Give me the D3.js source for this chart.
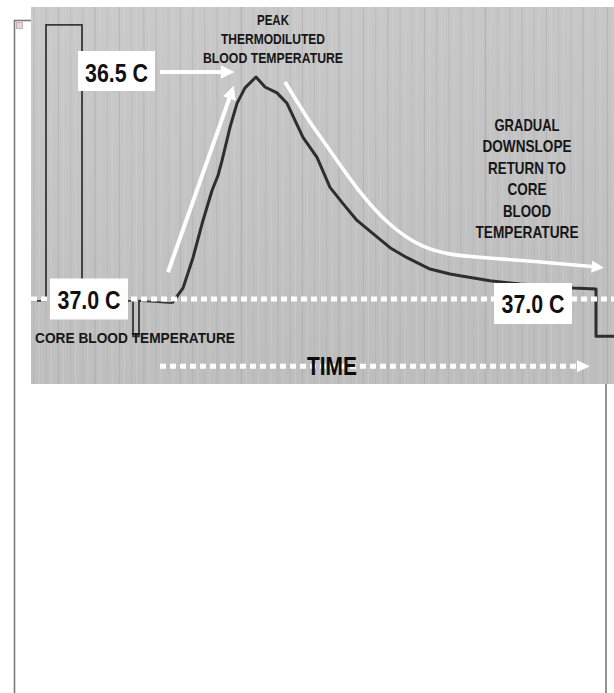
<!DOCTYPE html>
<html><head><meta charset="utf-8">
<script src="https://cdn.jsdelivr.net/npm/d3@7"></script>
<style>html,body{margin:0;padding:0;background:#fff;}svg{display:block;}</style>
</head><body>
<svg id="chart" width="614" height="693"></svg>
<script>
// ---------- data (time in s, temperature in °C) ----------
const calibrationTime = [0, 1.5, 1.5, 5.1, 5.1, 10.2, 10.2, 10.8, 10.8, 14.1];
const calibrationTemp = [37.004, 37.004, 36.396, 36.396, 37.004, 37.004, 37.082, 37.082, 37.004, 37.009];
const curveTime = [14.1, 15.2, 16.2, 17.2, 18.1, 18.7, 19.1, 19.9, 20.6, 21.4, 22.5, 23.4, 24.6, 25.6, 27.2, 28.6, 29.9, 31.2, 32.6, 34.2, 35.9, 37.6, 39.9, 41.9, 42.9, 45.9, 48.9, 51.9, 54.2, 56.5, 56.5, 58.3];
const curveTemp = [37.009, 36.976, 36.909, 36.827, 36.761, 36.728, 36.695, 36.622, 36.569, 36.535, 36.511, 36.533, 36.546, 36.569, 36.644, 36.688, 36.754, 36.790, 36.827, 36.856, 36.887, 36.909, 36.934, 36.945, 36.949, 36.960, 36.967, 36.971, 36.976, 36.978, 37.082, 37.082];
const coreTemp = 37.0;
const peakTemp = 36.5;
const tempLabels = ["36.5 C", "37.0 C", "37.0 C"];
const peakLabel = ["PEAK", "THERMODILUTED", "BLOOD TEMPERATURE"];
const downslopeLabel = ["GRADUAL", "DOWNSLOPE", "RETURN TO", "CORE", "BLOOD", "TEMPERATURE"];
const coreLabel = "CORE BLOOD TEMPERATURE";
const timeLabel = "TIME";
// annotation arrows (time, temp)
const upArrowTime = [13.7, 20.1];
const upArrowTemp = [36.941, 36.524];
const peakArrowTime = [12.9, 20.7];
const downslopeTime = [25.4, 27.9, 29.2, 32.6, 35.9, 39.2, 41.9, 45.9, 50.9, 56.8];
const downslopeTemp = [36.522, 36.612, 36.650, 36.760, 36.841, 36.888, 36.903, 36.910, 36.918, 36.930];
const timeArrowTime = [12.9, 55.9];
const timeArrowTemp = 37.148;

// ---------- scales ----------
const x = d3.scaleLinear().domain([0, 58.3]).range([31, 614]);
const y = d3.scaleLinear().domain([37.0, 36.5]).range([299, 72]);
const photo = {x0: 31, y0: 7, x1: 614, y1: 384};

const svg = d3.select("#chart");
const defs = svg.append("defs");
const grad = defs.append("linearGradient").attr("id", "bg").attr("x1", 0).attr("y1", 0).attr("x2", 0.3).attr("y2", 1);
grad.append("stop").attr("offset", "0%").attr("stop-color", "#cacaca");
grad.append("stop").attr("offset", "100%").attr("stop-color", "#bebebe");
defs.append("clipPath").attr("id", "clip").append("rect")
  .attr("x", photo.x0).attr("y", photo.y0).attr("width", photo.x1 - photo.x0).attr("height", photo.y1 - photo.y0);
defs.append("filter").attr("id", "soft").append("feGaussianBlur").attr("stdDeviation", 0.6);
const mk = defs.append("marker").attr("id", "head").attr("viewBox", "0 0 10 10")
  .attr("refX", 6).attr("refY", 5).attr("markerWidth", 4).attr("markerHeight", 3.4)
  .attr("markerUnits", "strokeWidth").attr("orient", "auto");
mk.append("path").attr("d", "M0,0 L10,5 L0,10 Z").attr("fill", "#fff");

// frame of the page element
svg.append("rect").attr("x", 14.5).attr("y", 20.5).attr("width", 591.5).attr("height", 700)
  .attr("fill", "#fff").attr("stroke", "#7a7a7a").attr("stroke-width", 1.6);
// broken image icon
svg.append("rect").attr("x", 16.5).attr("y", 22.5).attr("width", 6).attr("height", 6)
  .attr("fill", "#f4d0d0").attr("stroke", "#aaa").attr("stroke-width", 0.8);

const g = svg.append("g").attr("clip-path", "url(#clip)");
g.append("rect").attr("x", photo.x0).attr("y", photo.y0).attr("width", photo.x1 - photo.x0)
  .attr("height", photo.y1 - photo.y0).attr("fill", "url(#bg)");
// chart-paper vertical rulings (texture)
const rulings = d3.range(0.3, 58.3, 1.22);
g.selectAll("line.rule").data(rulings).join("line").attr("class", "rule")
  .attr("x1", d => x(d)).attr("x2", d => x(d)).attr("y1", photo.y0).attr("y2", photo.y1)
  .attr("stroke", "#9e9e9e")
  .attr("stroke-width", (d, i) => i % 4 === 1 ? 1.5 : 1)
  .attr("opacity", (d, i) => [0.35, 0.2, 0.45, 0.25, 0.3][i % 5]);
g.selectAll("line.rule2").data(rulings).join("line").attr("class", "rule2")
  .attr("x1", d => x(d) + 5).attr("x2", d => x(d) + 5).attr("y1", photo.y0).attr("y2", photo.y1)
  .attr("stroke", "#d6d6d6").attr("stroke-width", 1.2).attr("opacity", 0.35);

const line = d3.line().x(d => x(d[0])).y(d => y(d[1]));
// recorded trace
g.append("path").datum(d3.zip(calibrationTime, calibrationTemp)).attr("d", line)
  .attr("fill", "none").attr("stroke", "#383838").attr("stroke-width", 1.8).attr("filter", "url(#soft)");
g.append("path").datum(d3.zip(curveTime, curveTemp)).attr("d", line)
  .attr("fill", "none").attr("stroke", "#2e2e2e").attr("stroke-width", 3)
  .attr("stroke-linejoin", "round").attr("filter", "url(#soft)");

// white dotted core temperature line
g.append("line").attr("x1", x(0)).attr("x2", x(58.3)).attr("y1", y(coreTemp)).attr("y2", y(coreTemp))
  .attr("stroke", "#fff").attr("stroke-width", 5).attr("stroke-dasharray", "6,4");
// TIME dotted arrow
g.append("line").attr("x1", x(timeArrowTime[0])).attr("x2", x(timeArrowTime[1]) - 10)
  .attr("y1", y(timeArrowTemp)).attr("y2", y(timeArrowTemp))
  .attr("stroke", "#fff").attr("stroke-width", 5).attr("stroke-dasharray", "6,4");
g.append("path").attr("fill", "#fff")
  .attr("d", `M${x(timeArrowTime[1])},${y(timeArrowTemp)} l-13,-6 l0,12 Z`);

// solid white arrows
g.append("line").attr("x1", x(peakArrowTime[0])).attr("y1", y(peakTemp))
  .attr("x2", x(peakArrowTime[1]) - 9).attr("y2", y(peakTemp))
  .attr("stroke", "#fff").attr("stroke-width", 4).attr("marker-end", "url(#head)");
g.append("line").attr("x1", x(upArrowTime[0])).attr("y1", y(upArrowTemp[0]))
  .attr("x2", x(upArrowTime[1])).attr("y2", y(upArrowTemp[1]) + 8)
  .attr("stroke", "#fff").attr("stroke-width", 4).attr("marker-end", "url(#head)");
const smooth = d3.line().x(d => x(d[0])).y(d => y(d[1])).curve(d3.curveBasis);
g.append("path").datum(d3.zip(downslopeTime, downslopeTemp)).attr("d", smooth)
  .attr("fill", "none").attr("stroke", "#fff").attr("stroke-width", 3.6)
  .attr("marker-end", "url(#head)");

const font = "'Liberation Sans', Arial, Helvetica, sans-serif";
function boxLabel(cx, cy, w, h, txt, base) {
  g.append("rect").attr("x", cx - w / 2).attr("y", cy - h / 2).attr("width", w).attr("height", h).attr("fill", "#fff");
  g.append("text").attr("x", cx).attr("y", base).attr("text-anchor", "middle")
    .attr("font-family", font).attr("font-weight", "bold").attr("font-size", 26)
    .attr("fill", "#111").attr("textLength", 63).attr("lengthAdjust", "spacingAndGlyphs").text(txt);
}
boxLabel(x(8.55), y(peakTemp) - 1, 77, 40, tempLabels[0], y(peakTemp) + 10);
boxLabel(x(5.8), y(coreTemp), 78, 41, tempLabels[1], y(coreTemp) + 10);
boxLabel(x(50.2), y(coreTemp) + 4.5, 78, 41, tempLabels[2], y(coreTemp) + 14);

function multi(lines, cx, firstBase, step, size, widths) {
  lines.forEach((t, i) => {
    g.append("text").attr("x", cx).attr("y", firstBase + i * step).attr("text-anchor", "middle")
      .attr("font-family", font).attr("font-weight", "bold").attr("font-size", size).attr("fill", "#161616")
      .attr("textLength", widths[i]).attr("lengthAdjust", "spacingAndGlyphs").text(t);
  });
}
multi(peakLabel, x(24.2), 25, 19.2, 15, [32, 104, 140]);
multi(downslopeLabel, x(49.6), 131, 21.4, 16.5, [65, 89, 78, 39, 48, 103]);
g.append("text").attr("x", 35).attr("y", y(coreTemp) + 44).attr("font-family", font)
  .attr("font-weight", "bold").attr("font-size", 15.5).attr("fill", "#161616")
  .attr("textLength", 200).attr("lengthAdjust", "spacingAndGlyphs").text(coreLabel);
g.append("text").attr("x", x(30.1)).attr("y", y(timeArrowTemp) + 9).attr("text-anchor", "middle")
  .attr("font-family", font).attr("font-weight", "bold").attr("font-size", 25).attr("fill", "#0c0c0c")
  .attr("textLength", 50).attr("lengthAdjust", "spacingAndGlyphs").text(timeLabel);
</script>
</body></html>
